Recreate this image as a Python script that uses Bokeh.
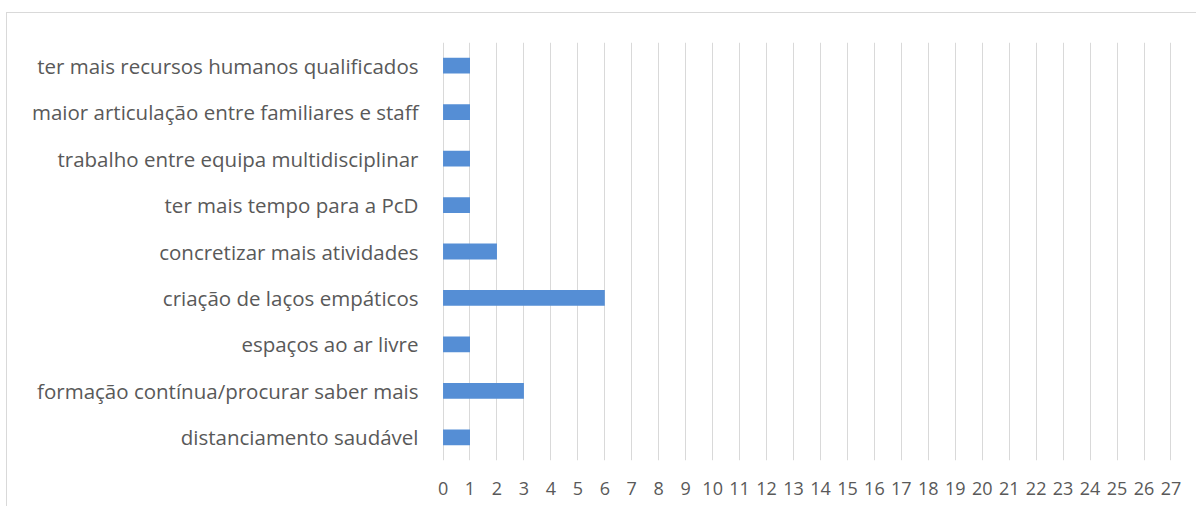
from bokeh.plotting import figure
from bokeh.embed import file_html
from bokeh.resources import INLINE
from bokeh.models import FixedTicker

categories = [
    "distanciamento saudável",
    "formação contínua/procurar saber mais",
    "espaços ao ar livre",
    "criação de laços empáticos",
    "concretizar mais atividades",
    "ter mais tempo para a PcD",
    "trabalho entre equipa multidisciplinar",
    "maior articulação entre familiares e staff",
    "ter mais recursos humanos qualificados",
]
values = [1, 3, 1, 6, 2, 1, 1, 1, 1]
x_ticks = list(range(0, 28))

p = figure(
    y_range=categories,
    x_range=(-0.02, 27.02),
    width=1190, height=494,
    min_border_left=435, min_border_right=26,
    min_border_top=29, min_border_bottom=47,
    output_backend="svg", toolbar_location=None,
)
p.styles = {"border-top": "1px solid #d9d9d9", "border-left": "1px solid #d9d9d9",
            "margin-left": "6px", "margin-top": "12px"}
p.outline_line_color = None
p.background_fill_color = "white"
p.border_fill_color = "white"

p.hbar(y=categories, right=values, left=0, height=0.34,
       fill_color="#558ED5", line_color=None)

p.xaxis.ticker = FixedTicker(ticks=x_ticks)
p.xgrid.ticker = FixedTicker(ticks=x_ticks)
p.xgrid.grid_line_color = "#d9d9d9"
p.xgrid.grid_line_width = 1
p.ygrid.grid_line_color = None

for ax in (p.xaxis, p.yaxis):
    ax.axis_line_color = None
    ax.major_tick_line_color = None
    ax.minor_tick_line_color = None
    ax.major_tick_out = 0
    ax.major_tick_in = 0
    ax.major_label_text_font = "Open Sans"
    ax.major_label_text_color = "#595959"

p.xaxis.major_label_text_font_size = "18px"
p.xaxis.major_label_standoff = 21
p.yaxis.major_label_text_font_size = "20.5px"
p.yaxis.major_label_standoff = 24

open("out.html", "w").write(file_html(p, INLINE))
